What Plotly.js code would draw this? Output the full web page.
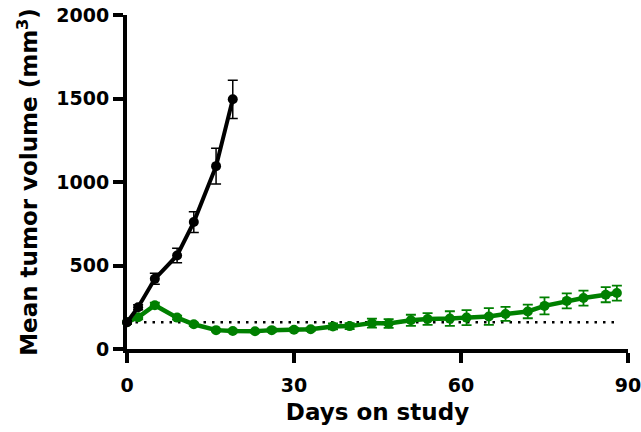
<!DOCTYPE html>
<html>
<head>
<meta charset="utf-8">
<script src="https://cdn.plot.ly/plotly-3.0.1.min.js"></script>
<style>html,body{margin:0;padding:0;background:#fff}#chart{width:641px;height:432px}</style>
</head>
<body>
<div id="chart"></div>
<script>
// Control group
const daysControl = [0, 2, 5, 9, 12, 16, 19];
const volControl  = [160, 250, 420, 560, 760, 1095, 1495];
const errControl  = [10, 15, 33, 43, 62, 107, 115];

// Treated group
const daysTreated = [0, 2, 5, 9, 12, 16, 19, 23, 26, 30, 33, 37, 40, 44, 47, 51, 54, 58, 61, 65, 68, 72, 75, 79, 82, 86, 88];
const volTreated  = [160, 190, 262, 188, 148, 113, 108, 106, 113, 115, 118, 135, 137, 155, 153, 172, 180, 182, 188, 195, 210, 225, 258, 288, 305, 325, 335];
const errTreated  = [8, 12, 16, 12, 10, 8, 8, 8, 10, 10, 10, 18, 18, 27, 26, 33, 35, 44, 45, 50, 42, 41, 51, 45, 45, 45, 45];

// Baseline reference (dotted)
const baselineDays = [0, 88];
const baselineVol  = [160, 160];

// Axis ticks
const xTicks = [0, 30, 60, 90];
const yTicks = [0, 500, 1000, 1500, 2000];

const GREEN = 'rgb(0,128,0)';
const FONT = 'DejaVu Sans';

const traces = [
  {
    x: baselineDays, y: baselineVol, mode: 'lines', type: 'scatter',
    line: {color: '#000', width: 2.5, dash: '2.5px,6px'},
    hoverinfo: 'skip', showlegend: false, cliponaxis: false
  },
  {
    x: daysTreated, y: volTreated, mode: 'lines+markers', type: 'scatter',
    line: {color: GREEN, width: 4.5},
    marker: {color: GREEN, size: 10, symbol: 'circle'},
    error_y: {type: 'data', array: errTreated, visible: true, color: GREEN, thickness: 1.8, width: 5},
    showlegend: false, cliponaxis: false
  },
  {
    x: daysControl, y: volControl, mode: 'lines+markers', type: 'scatter',
    line: {color: '#000', width: 4},
    marker: {color: '#000', size: 10, symbol: 'circle'},
    error_y: {type: 'data', array: errControl, visible: true, color: '#000', thickness: 1.5, width: 5},
    showlegend: false, cliponaxis: false
  }
];

const layout = {
  width: 641, height: 432,
  margin: {l: 127, r: 13, t: 15, b: 83},
  paper_bgcolor: '#fff', plot_bgcolor: '#fff',
  showlegend: false,
  xaxis: {
    range: [0, 90], tickvals: xTicks, ticktext: xTicks.map(String),
    showgrid: false, zeroline: false,
    showline: true, linecolor: '#000', linewidth: 4,
    ticks: 'outside', ticklen: 10, tickwidth: 4, tickcolor: '#000',
    ticklabelstandoff: 6, ticklabeloverflow: 'allow',
    tickfont: {family: FONT, size: 19, color: '#000', weight: 'bold'},
    title: {text: 'Days on study', font: {family: FONT, size: 23, color: '#000', weight: 'bold'}, standoff: 10},
    automargin: false, fixedrange: true
  },
  yaxis: {
    range: [0, 2000], tickvals: yTicks, ticktext: yTicks.map(String),
    showgrid: false, zeroline: false,
    showline: true, linecolor: '#000', linewidth: 4,
    ticks: 'outside', ticklen: 10, tickwidth: 4, tickcolor: '#000',
    ticklabeloverflow: 'allow',
    tickfont: {family: FONT, size: 19, color: '#000', weight: 'bold'},
    title: {text: 'Mean tumor volume (mm<sup>3</sup>)', font: {family: FONT, size: 23, color: '#000', weight: 'bold'}, standoff: 13},
    automargin: false, fixedrange: true
  }
};

Plotly.newPlot('chart', traces, layout, {displayModeBar: false, staticPlot: true});
</script>
</body>
</html>
